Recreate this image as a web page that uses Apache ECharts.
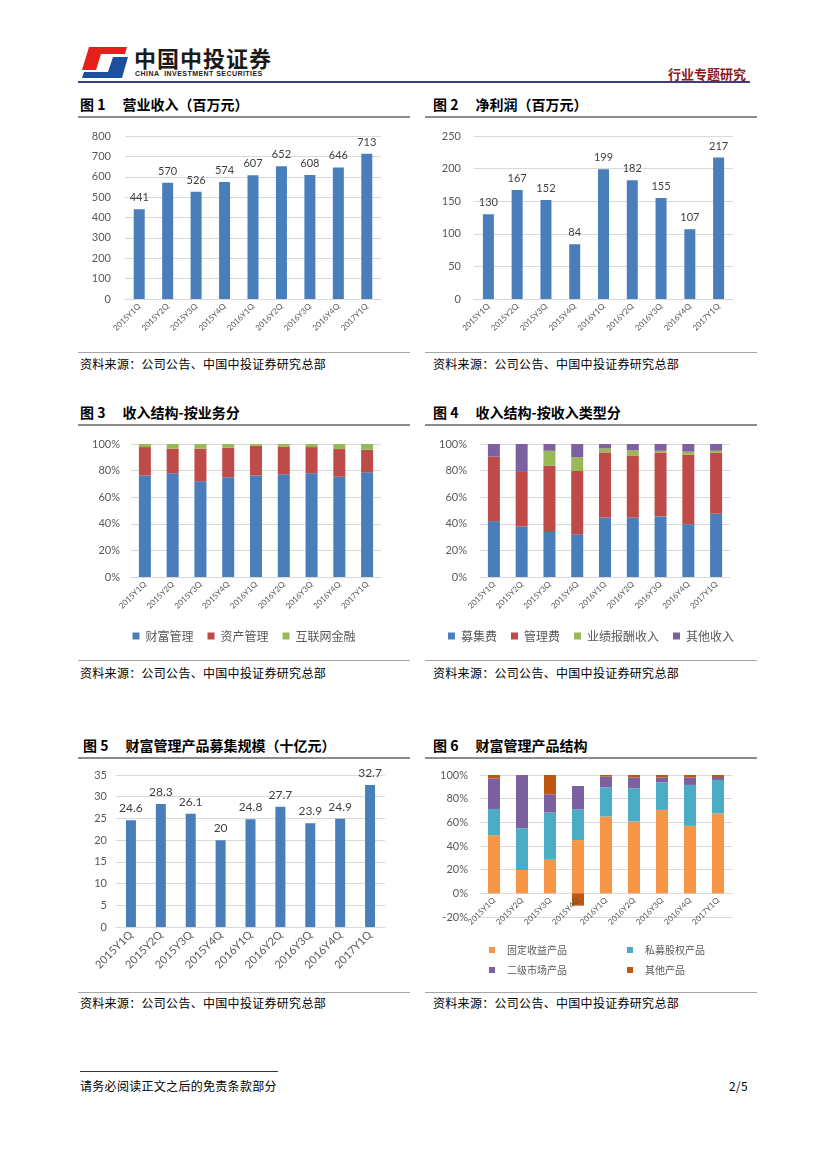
<!DOCTYPE html>
<html><head><meta charset="utf-8">
<script src="https://cdn.jsdelivr.net/npm/echarts@6/dist/echarts.min.js"></script>
<style>
body{margin:0;width:827px;height:1169px;background:#fff;position:relative;font-family:'Noto Sans CJK SC',sans-serif;overflow:hidden}
.t{position:absolute;font-size:14px;font-weight:bold;color:#000;white-space:pre;line-height:18px}
.t span{margin-left:17px}
.tline{position:absolute;height:2px;background:#8c8c8c;width:332px}
.sline{position:absolute;height:1px;background:#a6a6a6;width:332px}
.src{position:absolute;font-size:12px;color:#000;line-height:18px;white-space:pre;letter-spacing:0.3px}
.chart{position:absolute;width:332px}
</style></head>
<body>
<!-- header -->
<svg style="position:absolute;left:0;top:0" width="140" height="90">
  <polygon points="89,47 127,47 125,54 101,54 96,70 82,70" fill="#e3201b"/>
  <polygon points="113,57 128,57 122,78 82,78 84,72 108,72" fill="#1d4fa0"/>
</svg>
<div style="position:absolute;left:134px;top:44px;font-size:22px;font-weight:bold;color:#1a1a1a;line-height:26px;letter-spacing:1px">中国中投证券</div>
<div style="position:absolute;left:135px;top:69px;font-size:7px;font-weight:bold;color:#1a1a1a;font-family:'Liberation Sans',sans-serif;line-height:9px;letter-spacing:0.45px">CHINA&nbsp; INVESTMENT SECURITIES</div>
<div style="position:absolute;left:668px;top:65px;font-size:13px;font-weight:bold;color:#8b1a1a;line-height:18px">行业专题研究</div>
<div style="position:absolute;left:78px;top:81px;width:672px;height:2px;background:#3d3d80"></div>

<div class="t" style="left:80px;top:95px">图 1<span>营业收入（百万元）</span></div>
<div class="t" style="left:433px;top:95px">图 2<span>净利润（百万元）</span></div>
<div class="tline" style="left:78px;top:116px"></div>
<div class="tline" style="left:425px;top:116px"></div>
<div id="c1" class="chart" style="left:78px;top:120px;height:230px"></div>
<div id="c2" class="chart" style="left:425px;top:120px;height:230px"></div>
<div class="sline" style="left:78px;top:352px"></div>
<div class="sline" style="left:425px;top:352px"></div>
<div class="src" style="left:80px;top:355px">资料来源：公司公告、中国中投证券研究总部</div>
<div class="src" style="left:433px;top:355px">资料来源：公司公告、中国中投证券研究总部</div>

<div class="t" style="left:80px;top:403px">图 3<span>收入结构-按业务分</span></div>
<div class="t" style="left:433px;top:403px">图 4<span>收入结构-按收入类型分</span></div>
<div class="tline" style="left:78px;top:424px"></div>
<div class="tline" style="left:425px;top:424px"></div>
<div id="c3" class="chart" style="left:78px;top:428px;height:232px"></div>
<div id="c4" class="chart" style="left:425px;top:428px;height:232px"></div>
<div class="sline" style="left:78px;top:660px"></div>
<div class="sline" style="left:425px;top:660px"></div>
<div class="src" style="left:80px;top:664px">资料来源：公司公告、中国中投证券研究总部</div>
<div class="src" style="left:433px;top:664px">资料来源：公司公告、中国中投证券研究总部</div>

<div class="t" style="left:83px;top:736px">图 5<span>财富管理产品募集规模（十亿元）</span></div>
<div class="t" style="left:433px;top:736px">图 6<span>财富管理产品结构</span></div>
<div class="tline" style="left:78px;top:757px"></div>
<div class="tline" style="left:425px;top:757px"></div>
<div id="c5" class="chart" style="left:78px;top:760px;height:232px"></div>
<div id="c6" class="chart" style="left:425px;top:760px;height:232px"></div>
<div class="sline" style="left:78px;top:992px"></div>
<div class="sline" style="left:425px;top:992px"></div>
<div class="src" style="left:80px;top:994px">资料来源：公司公告、中国中投证券研究总部</div>
<div class="src" style="left:433px;top:994px">资料来源：公司公告、中国中投证券研究总部</div>

<div style="position:absolute;left:80px;top:1071px;width:198px;height:1px;background:#2f2f80"></div>
<div class="src" style="left:80px;top:1077px">请务必阅读正文之后的免责条款部分</div>
<div class="src" style="left:700px;top:1077px;width:48px;text-align:right">2/5</div>

<script>
// ---------- data ----------
const categories = ['2015Y1Q','2015Y2Q','2015Y3Q','2015Y4Q','2016Y1Q','2016Y2Q','2016Y3Q','2016Y4Q','2017Y1Q'];
const revenue = [441, 570, 526, 574, 607, 652, 608, 646, 713];
const netProfit = [130, 167, 152, 84, 199, 182, 155, 107, 217];
// 图3 收入结构-按业务分 (%)
const bizWealth = [76.2, 78.0, 71.9, 75.0, 76.2, 77.2, 78.0, 75.4, 78.7];
const bizAsset = [21.5, 18.5, 24.6, 22.2, 22.5, 20.8, 19.7, 20.8, 17.0];
const bizInternet = [2.3, 3.5, 3.5, 2.8, 1.3, 2.0, 2.3, 3.8, 4.3];
// 图4 收入结构-按收入类型分 (%)
const feeRaise = [42.0, 38.0, 33.9, 32.2, 44.8, 44.6, 45.6, 39.7, 47.6];
const feeMgmt = [48.6, 41.0, 49.9, 47.5, 48.9, 46.8, 48.1, 52.2, 45.8];
const feePerf = [0, 0, 11.1, 10.4, 3.0, 3.8, 1.2, 2.3, 1.5];
const feeOther = [9.4, 21.0, 5.1, 9.9, 3.3, 4.8, 5.1, 5.8, 5.1];
// 图5 财富管理产品募集规模（十亿元）
const raiseScale = [24.6, 28.3, 26.1, 20, 24.8, 27.7, 23.9, 24.9, 32.7];
// 图6 财富管理产品结构 (%)
const prodFixed = [49.2, 19.7, 28.4, 45.0, 64.9, 60.7, 70.5, 57.0, 67.4];
const prodPE = [22.1, 35.3, 39.9, 25.8, 24.7, 28.1, 23.3, 34.6, 28.4];
const prodSecondary = [25.9, 45.0, 15.4, 19.9, 9.0, 9.2, 4.2, 6.4, 2.5];
const prodOther = [2.8, 0, 16.3, -10.4, 1.4, 2.0, 2.0, 2.0, 1.7];

const legend3 = ['财富管理','资产管理','互联网金融'];
const legend4 = ['募集费','管理费','业绩报酬收入','其他收入'];
const legend6 = ['固定收益产品','私募股权产品','二级市场产品','其他产品'];

// ---------- styles ----------
const NUM = "Lato, 'Noto Sans CJK SC', sans-serif";
const CJK = "'Noto Sans CJK SC', sans-serif";
const BLUE = '#4a7ebb', RED = '#be4b48', GREEN = '#98b954', PURPLE = '#7d60a0';
const ORANGE = '#f79646', TEAL = '#4bacc6', BROWN = '#c0560f';
const GRIDC = '#d9d9d9', LABC = '#595959';

function xAxis(fs){
  return {type:'category', data:categories,
    axisLine:{show:true, lineStyle:{color:GRIDC}}, axisTick:{show:false},
    axisLabel:{interval:0, rotate:45, fontSize:fs, color:LABC, fontFamily:NUM, margin:6}};
}
function yAxis(min,max,interval,margin,pct){
  return {type:'value', min:min, max:max, interval:interval,
    axisLine:{show:false}, axisTick:{show:false},
    splitLine:{lineStyle:{color:GRIDC}},
    axisLabel:{fontSize:11, color:LABC, fontFamily:NUM, margin:margin, formatter: pct ? '{value}%' : '{value}'}};
}
function simpleBar(id, grid, y, data, barW, labFs, xfs){
  const c = echarts.init(document.getElementById(id), null, {renderer:'canvas'});
  c.setOption({
    animation:false,
    grid:grid,
    xAxis:xAxis(xfs),
    yAxis:y,
    series:[{type:'bar', data:data, barWidth:barW, itemStyle:{color:BLUE},
      label:{show:true, position:'top', distance:6, fontSize:labFs, color:'#404040', fontFamily:NUM}}]
  });
}

simpleBar('c1', {left:47, right:29, top:16, bottom:51}, yAxis(0,800,100,14,false), revenue, 11, 11, 8);
simpleBar('c2', {left:49, right:24, top:16, bottom:51}, yAxis(0,250,50,13,false), netProfit, 11, 11, 8);
simpleBar('c5', {left:38, right:25, top:15, bottom:65}, yAxis(0,35,5,9,false), raiseScale, 10, 12, 11);

function stackSeries(names, arrays, colors, barW){
  return names.map((n,i)=>({name:n, type:'bar', stack:'s', data:arrays[i], barWidth:barW, itemStyle:{color:colors[i]}}));
}
function legendStyle(){
  return {itemWidth:7, itemHeight:7, icon:'rect', itemGap:14,
    textStyle:{fontSize:12, color:LABC, fontFamily:CJK, padding:[0,0,0,1]}};
}

const c3 = echarts.init(document.getElementById('c3'));
c3.setOption({
  animation:false,
  grid:{left:53, right:29, top:16, bottom:83},
  legend:Object.assign({data:legend3, left:'center', top:197}, legendStyle()),
  xAxis:xAxis(8),
  yAxis:yAxis(0,100,20,11,true),
  series:stackSeries(legend3, [bizWealth, bizAsset, bizInternet], [BLUE, RED, GREEN], 12)
});

const c4 = echarts.init(document.getElementById('c4'));
c4.setOption({
  animation:false,
  grid:{left:55, right:27, top:16, bottom:83},
  legend:Object.assign({data:legend4, left:'center', top:197}, legendStyle()),
  xAxis:xAxis(8),
  yAxis:yAxis(0,100,20,13,true),
  series:stackSeries(legend4, [feeRaise, feeMgmt, feePerf, feeOther], [BLUE, RED, GREEN, PURPLE], 12)
});

const c6 = echarts.init(document.getElementById('c6'));
function lg6(name, left, top){
  return {data:[name], left:left, top:top, itemWidth:6, itemHeight:6, icon:'rect',
    textStyle:{fontSize:10, color:LABC, fontFamily:CJK, padding:[0,0,0,7]}};
}
const x6 = xAxis(8);
x6.axisLine = {show:false, onZero:false};
x6.offset = -24;
x6.z = 10;
c6.setOption({
  animation:false,
  grid:{left:55, right:25, top:15, bottom:75},
  legend:[lg6(legend6[0],59,180), lg6(legend6[1],197,180), lg6(legend6[2],59,200), lg6(legend6[3],197,200)],
  xAxis:x6,
  yAxis:yAxis(-20,100,20,12,true),
  series:stackSeries(legend6, [prodFixed, prodPE, prodSecondary, prodOther], [ORANGE, TEAL, PURPLE, BROWN], 12)
});
</script>
</body></html>
